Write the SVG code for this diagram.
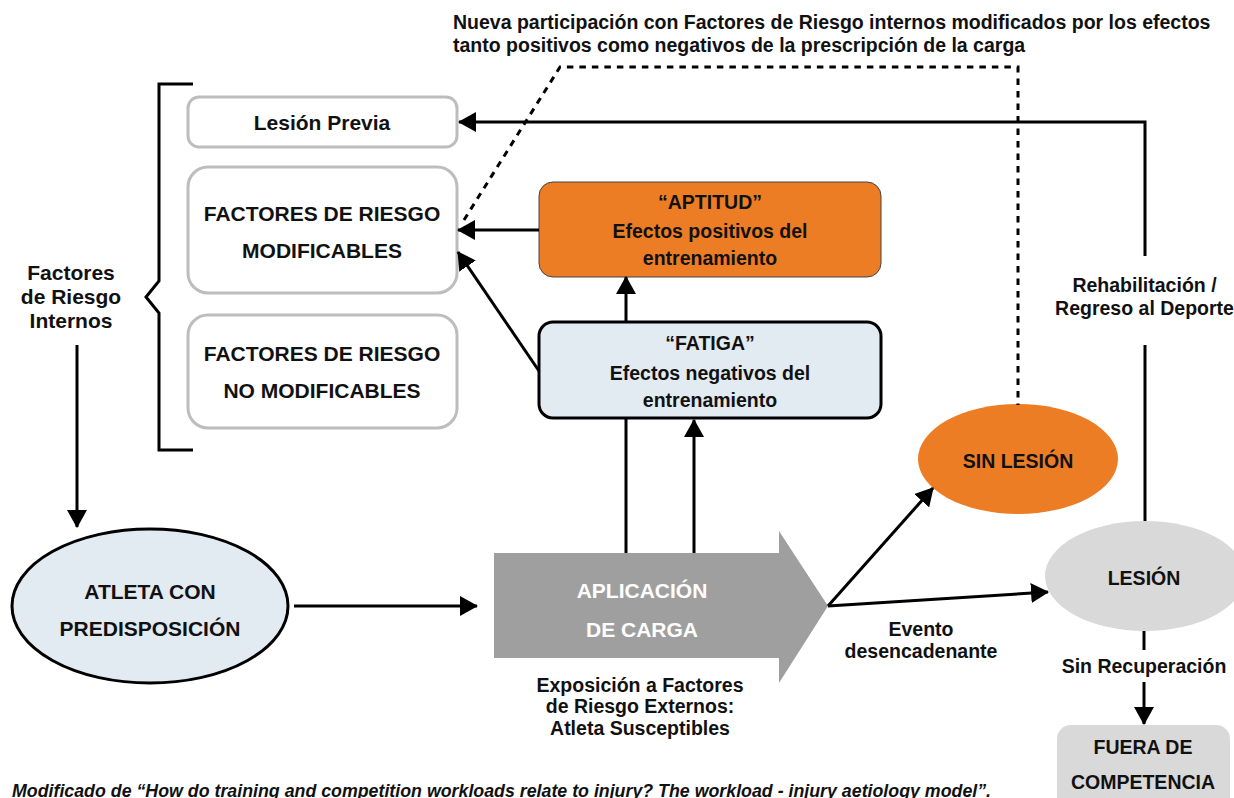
<svg xmlns="http://www.w3.org/2000/svg" width="1234" height="798" viewBox="0 0 1234 798">
<style>
text{font-family:"Liberation Sans",Arial,sans-serif;font-weight:bold;fill:#111;text-anchor:middle}
.s21{font-size:21px}
.s19{font-size:19.5px}
.gbox{fill:#fff;stroke:#bdbdbd;stroke-width:3}
.ln{fill:none;stroke:#000;stroke-width:3}
.dot{fill:none;stroke:#000;stroke-width:3;stroke-dasharray:6.5 6}
</style>
<defs>
<marker id="ah" markerUnits="userSpaceOnUse" markerWidth="18" markerHeight="20" refX="17" refY="10" orient="auto">
<path d="M0,0 L18,10 L0,20 z" fill="#000"/>
</marker>
</defs>
<rect width="1234" height="798" fill="#fff"/>

<g id="title">
<text class="s19" x="453" y="29" style="text-anchor:start">Nueva participación con Factores de Riesgo internos modificados por los efectos</text>
<text class="s19" x="453" y="52" style="text-anchor:start">tanto positivos como negativos de la prescripción de la carga</text>
</g>

<g id="bracket">
<path class="ln" d="M193,84 H159 V281 L146,297 L159,313 V450 H193"/>
</g>

<g id="internos-label">
<text class="s21" x="71" y="280">Factores</text>
<text class="s21" x="71" y="304">de Riesgo</text>
<text class="s21" x="71" y="328">Internos</text>
</g>

<g id="lesion-previa">
<rect class="gbox" x="188" y="97" width="269" height="50" rx="11"/>
<text class="s21" x="322" y="130">Lesión Previa</text>
</g>

<g id="factores-modificables">
<rect class="gbox" x="188" y="167" width="269" height="126" rx="20"/>
<text class="s21" x="322" y="220.5">FACTORES DE RIESGO</text>
<text class="s21" x="322" y="257.5">MODIFICABLES</text>
</g>

<g id="factores-no-modificables">
<rect class="gbox" x="188" y="315" width="269" height="113" rx="20"/>
<text class="s21" x="322" y="360.5">FACTORES DE RIESGO</text>
<text class="s21" x="322" y="397.5">NO MODIFICABLES</text>
</g>

<g id="aptitud">
<rect x="539" y="182" width="342" height="95" rx="14" fill="#ed7d25" stroke="#444" stroke-width="1"/>
<text class="s19" x="710" y="209">“APTITUD”</text>
<text class="s19" x="710" y="238">Efectos positivos del</text>
<text class="s19" x="710" y="265">entrenamiento</text>
</g>

<g id="fatiga">
<rect x="539" y="322" width="342" height="96" rx="14" fill="#e3ebf2" stroke="#000" stroke-width="3"/>
<text class="s19" x="710" y="350">“FATIGA”</text>
<text class="s19" x="710" y="380">Efectos negativos del</text>
<text class="s19" x="710" y="407">entrenamiento</text>
</g>

<g id="atleta">
<ellipse cx="150" cy="606" rx="138" ry="77" fill="#e3ebf2" stroke="#000" stroke-width="3"/>
<text class="s21" x="150" y="598.5">ATLETA CON</text>
<text class="s21" x="150" y="635.5">PREDISPOSICIÓN</text>
</g>

<g id="aplicacion">
<path d="M494,553 H779 V531 L828,606 L779,683 V658 H494 z" fill="#9f9f9f"/>
<text class="s21" x="642" y="597.5" style="fill:#fff">APLICACIÓN</text>
<text class="s21" x="642" y="636.5" style="fill:#fff">DE CARGA</text>
</g>

<g id="exposicion-label">
<text class="s19" x="640" y="692">Exposición a Factores</text>
<text class="s19" x="640" y="713">de Riesgo Externos:</text>
<text class="s19" x="640" y="735">Atleta Susceptibles</text>
</g>

<g id="evento-label">
<text class="s19" x="921" y="636">Evento</text>
<text class="s19" x="921" y="658">desencadenante</text>
</g>

<g id="sin-lesion">
<ellipse cx="1018" cy="459" rx="100" ry="55" fill="#ed7d25"/>
<text class="s19" x="1018" y="468">SIN LESIÓN</text>
</g>

<g id="lesion">
<ellipse cx="1145" cy="576" rx="100" ry="55" fill="#d9d9d9"/>
<text class="s19" x="1144" y="585">LESIÓN</text>
</g>

<g id="fuera-competencia">
<rect x="1057" y="725" width="173" height="90" rx="14" fill="#d9d9d9"/>
<text class="s19" x="1143" y="754">FUERA DE</text>
<text class="s19" x="1143" y="789">COMPETENCIA</text>
</g>

<g id="rehab-label">
<text class="s19" x="1144.5" y="292">Rehabilitación /</text>
<text class="s19" x="1144.5" y="315">Regreso al Deporte</text>
</g>

<g id="sin-recuperacion-label">
<text class="s19" x="1144" y="673">Sin Recuperación</text>
</g>

<g id="connectors">
<path class="dot" d="M464,220 L560,67 H1018 V405"/>
<path class="ln" d="M1145,256 V122 H459" marker-end="url(#ah)"/>
<path class="ln" d="M1145,345 V521"/>
<path class="ln" d="M539,230 H458" marker-end="url(#ah)"/>
<path class="ln" d="M539,371 L458,252" marker-end="url(#ah)"/>
<path class="ln" d="M626,322 V277" marker-end="url(#ah)"/>
<path class="ln" d="M626,553 V418"/>
<path class="ln" d="M694,553 V420" marker-end="url(#ah)"/>
<path class="ln" d="M77,345 V527" marker-end="url(#ah)"/>
<path class="ln" d="M294,606 H477" marker-end="url(#ah)"/>
<path class="ln" d="M828,606 L933,488" marker-end="url(#ah)"/>
<path class="ln" d="M828,606 L1048,592" marker-end="url(#ah)"/>
<path class="ln" d="M1144,631 V650"/>
<path class="ln" d="M1144,682 V724" marker-end="url(#ah)"/>
</g>

<g id="caption">
<text x="12" y="797" style="text-anchor:start;font-style:italic;font-size:17.8px">Modificado de “How do training and competition workloads relate to injury? The workload - injury aetiology model”.</text>
</g>
</svg>
